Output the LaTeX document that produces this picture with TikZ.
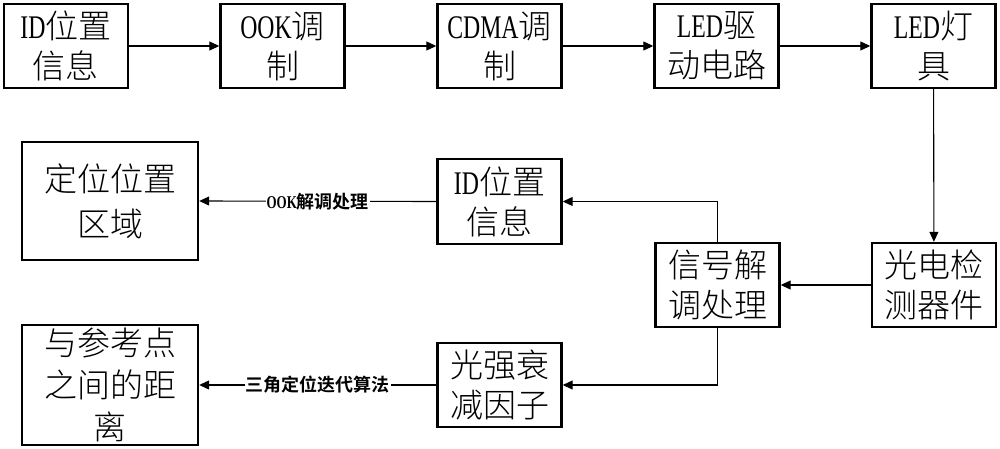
\documentclass[tikz,border=0pt]{standalone}
\usepackage{fontspec}
\setmainfont{Noto Sans CJK SC}[UprightFont=* Light, BoldFont=* Bold]
\newfontfamily\lat{Liberation Serif}[FakeStretch=0.72]
\usetikzlibrary{arrows.meta}
\begin{document}
\begin{tikzpicture}[x=1pt,y=-1pt,
  box/.style={draw,line width=2.4pt,rectangle,inner sep=0pt,align=center,
    minimum width=124pt,minimum height=84pt,font=\fontsize{33}{40}\selectfont},
  conn/.style={line width=1.1pt,-{Triangle[length=10pt,width=9pt]}},
  lbl/.style={fill=white,inner sep=1pt,font=\fontsize{18}{18}\selectfont\bfseries}]
\useasboundingbox (0,0) rectangle (1000,449);
\node[box] (b1) at (66,46) {{\lat ID}位置\\信息};
\node[box] (b2) at (282.5,46) {{\lat OOK}调\\制};
\node[box] (b3) at (499.5,46) {{\lat CDMA}调\\制};
\node[box] (b4) at (716.5,46) {{\lat LED}驱\\动电路};
\node[box] (b5) at (933.5,46) {{\lat LED}灯\\具};
\node[box] (b6) at (934,285) {光电检\\测器件};
\node[box] (b7) at (717.5,285) {信号解\\调处理};
\node[box,minimum height=85pt] (b8) at (499.5,201.5) {{\lat ID}位置\\信息};
\node[box,minimum width=176pt,minimum height=118pt,font=\fontsize{33}{45}\selectfont] (b9) at (110,201) {定位位置\\区域};
\node[box] (b10) at (499.5,385) {光强衰\\减因子};
\node[box,minimum width=176pt,minimum height=120pt,font=\fontsize{33}{42}\selectfont] (b11) at (110,385) {与参考点\\之间的距\\离};
\draw[conn] (b1) -- (b2);
\draw[conn] (b2) -- (b3);
\draw[conn] (b3) -- (b4);
\draw[conn] (b4) -- (b5);
\draw[conn] (b5) -- (b6);
\draw[conn] (b6) -- (b7);
\draw[conn] (b7.north) |- (b8.east);
\draw[conn] (b7.south) |- (b10.east);
\draw[conn] (b8.west) -- node[lbl] {{\lat OOK}解调处理} (b9.east);
\draw[conn] (b10.west) -- node[lbl] {三角定位迭代算法} (b11.east);
\end{tikzpicture}
\end{document}
